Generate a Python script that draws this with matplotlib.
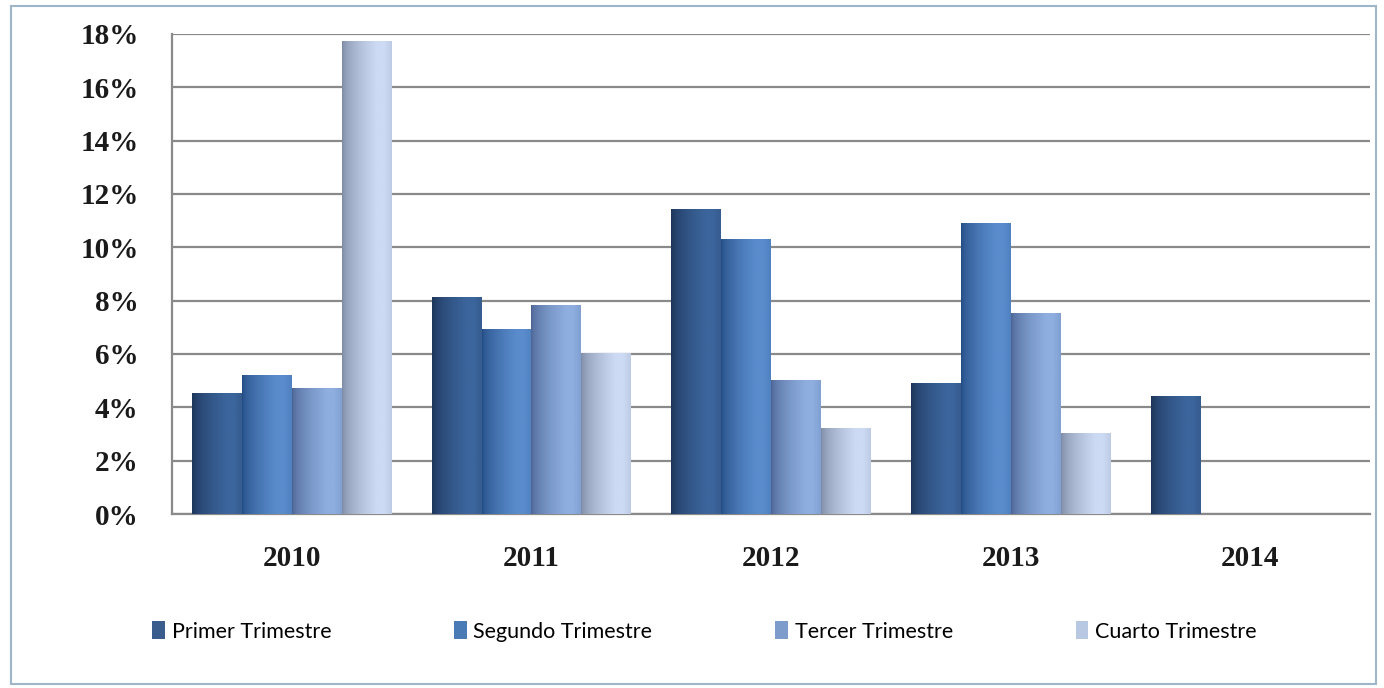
import numpy as np
import matplotlib
matplotlib.use('Agg')
import matplotlib.pyplot as plt
from matplotlib.colors import to_rgb
from matplotlib.patches import Rectangle, Patch
from matplotlib.ticker import FuncFormatter

years = ['2010', '2011', '2012', '2013', '2014']
series = ['Primer Trimestre', 'Segundo Trimestre', 'Tercer Trimestre', 'Cuarto Trimestre']
primer = [4.5, 8.1, 11.4, 4.9, 4.4]
segundo = [5.2, 6.9, 10.3, 10.9, None]
tercer = [4.7, 7.8, 5.0, 7.5, None]
cuarto = [17.7, 6.0, 3.2, 3.0, None]
values = [primer, segundo, tercer, cuarto]

# dark edge / light face colours per series
dark = ['#1c3458', '#244c84', '#4c6494', '#7c8aa4']
light = ['#3c659c', '#5a8ccc', '#8eaee0', '#ccdaf4']
legend_col = ['#3b5d8e', '#4a7bb5', '#7d9ccc', '#b8c8e2']


def gradient(c0, c1, n=64):
    c0 = np.array(to_rgb(c0))
    c1 = np.array(to_rgb(c1))
    t = np.linspace(0, 1, n)
    w = np.clip(t / 0.7, 0, 1) ** 0.6
    w[t > 0.85] -= (t[t > 0.85] - 0.85) * 1.2
    return (c0[None, :] + (c1 - c0)[None, :] * w[:, None])[None, :, :]


fig = plt.figure(figsize=(13.84, 6.88), dpi=100)
fig.patches.append(Rectangle((0.008, 0.006), 0.986, 0.986, transform=fig.transFigure,
                             fill=False, edgecolor='#9fb6c8', linewidth=1.5))
ax = fig.add_axes([0.1243, 0.2529, 0.8657, 0.6977])

x = np.arange(len(years))
bw = 0.208
for i, vals in enumerate(values):
    img = gradient(dark[i], light[i])
    for j, v in enumerate(vals):
        if v is None:
            continue
        x0 = x[j] - 2 * bw + i * bw
        ax.imshow(img, extent=[x0, x0 + bw, 0, v], aspect='auto', zorder=3,
                  interpolation='bilinear')

ax.set_xlim(-0.5, len(years) - 0.5)
ax.set_ylim(0, 18)
ax.set_yticks(np.arange(0, 19, 2))
ax.yaxis.set_major_formatter(FuncFormatter(lambda v, p: '{:d}%'.format(int(v))))
ax.set_xticks(x)
ax.set_xticklabels(years)
ax.grid(axis='y', color='#8a8a8a', linewidth=1.6, zorder=1)
ax.set_axisbelow(True)
for s in ['top', 'right']:
    ax.spines[s].set_visible(False)
ax.spines['left'].set_color('#8a8a8a')
ax.spines['left'].set_linewidth(1.6)
ax.spines['bottom'].set_color('#8a8a8a')
ax.spines['bottom'].set_linewidth(1.6)
ax.tick_params(axis='y', length=0, pad=24, labelsize=21)
ax.tick_params(axis='x', length=0, pad=22, labelsize=21)
for lab in ax.get_yticklabels() + ax.get_xticklabels():
    lab.set_family(['Liberation Serif', 'DejaVu Serif'])
    lab.set_fontweight('bold')
    lab.set_color('#1a1a1a')

handles = [Patch(facecolor=c, edgecolor='none') for c in legend_col]
leg = fig.legend(handles, series, loc='center', bbox_to_anchor=(0.509, 0.082), ncol=4,
                 frameon=False, handlelength=0.6, handleheight=0.9, handletextpad=0.3,
                 columnspacing=5.7,
                 prop={'family': ['Lato', 'DejaVu Sans'], 'size': 15.5})

fig.savefig('out.png', dpi=100)
